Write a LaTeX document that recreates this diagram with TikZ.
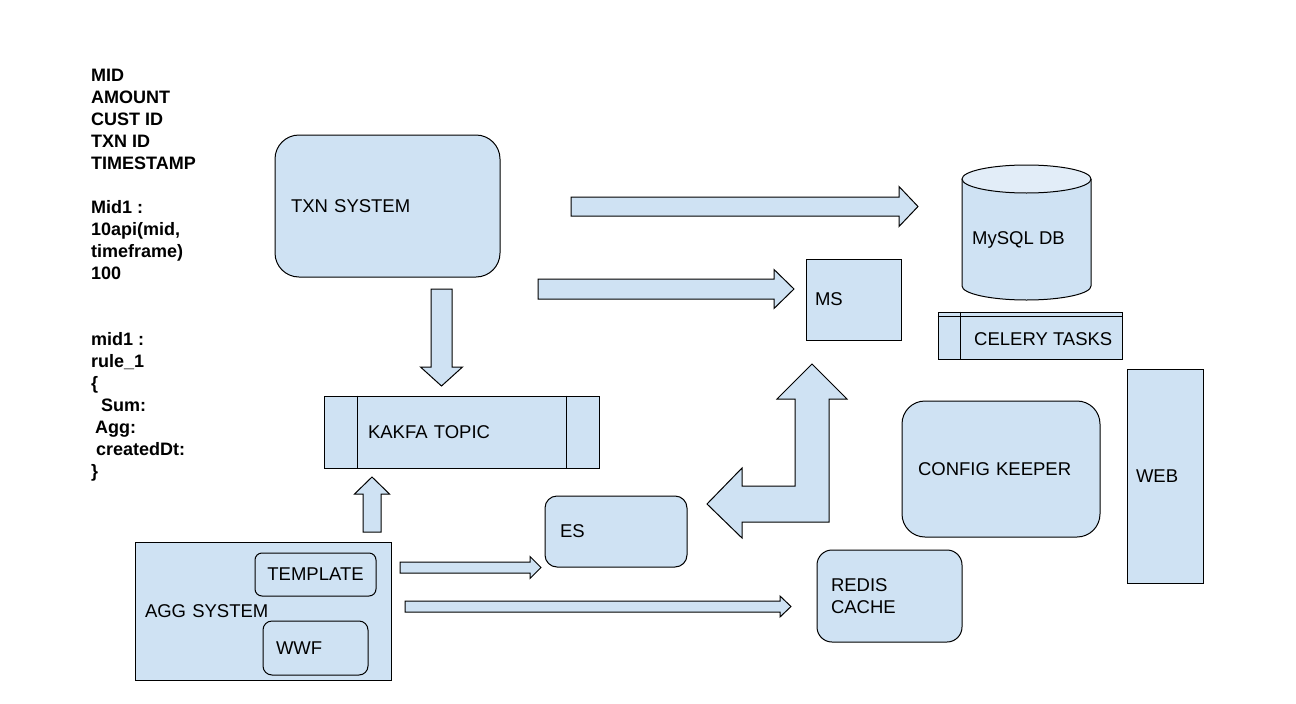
\documentclass[tikz,border=0pt]{standalone}
\usepackage{fontspec}
\setmainfont{Liberation Sans}
\usepackage{tikz}
\usetikzlibrary{calc}
\usepackage{xcolor}
\definecolor{paleblue}{HTML}{CFE2F3}
\definecolor{lidblue}{HTML}{E2EDF8}

\begin{document}
\begin{tikzpicture}[x=1pt, y=-1pt,
	box/.style={draw, fill=paleblue, line width=1pt, align=left, inner ysep=0pt,
	  font=\fontsize{18.5}{22}\selectfont},
	lbl/.style={font=\fontsize{18.5}{22}\selectfont, anchor=west, inner sep=0pt},
	note/.style={align=left, inner sep=0pt, font=\bfseries\fontsize{18}{22}\selectfont},
	fat/.style={draw, fill=paleblue, line width=1pt, line join=miter}]
	  \useasboundingbox (0,0) rectangle (1296,704);
	  % field list
	  \node[note, anchor=north west] (fields) at (91,68.5) {MID\\AMOUNT\\CUST ID\\TXN ID\\TIMESTAMP\\[22pt]
	    Mid1 :\\10api(mid,\\timeframe)\\100\\[44pt]
	    mid1 :\\rule\_1\\\{\\\hspace{10pt}Sum:\\\hspace{4pt}Agg:\\\hspace{5pt}createdDt:\\\}};
	  % systems
	  \node[box, rounded corners=24pt, text width=193pt, inner xsep=16pt, minimum height=142pt] (txn) at (387.5,206) {TXN SYSTEM};
	  \node[box, text width=187pt, inner xsep=44pt, minimum height=72pt] (kafka) at (461.5,432) {KAKFA TOPIC};
	  \draw[line width=1pt] ([xshift=34pt]kafka.north west) -- ([xshift=34pt]kafka.south west);
	  \draw[line width=1pt] ([xshift=-33pt]kafka.north east) -- ([xshift=-33pt]kafka.south east);
	  \node[box, text width=77pt, inner xsep=9pt, minimum height=81pt] (ms) at (853.5,299.5) {MS};
	  \node[box, rounded corners=12pt, text width=112pt, inner xsep=15pt, minimum height=71pt] (es) at (616,531.5) {ES};
	  \node[box, rounded corners=15pt, text width=117pt, inner xsep=14pt, minimum height=92pt] (redis) at (889.5,596) {REDIS\\CACHE};
	  \node[box, rounded corners=23pt, text width=166pt, inner xsep=16pt, minimum height=136pt] (config) at (1001,469) {CONFIG KEEPER};
	  \node[box, text width=58pt, inner xsep=9pt, minimum height=214pt] (web) at (1165,476) {WEB};
	  \node[box, minimum width=184pt, minimum height=47pt] (celery) at (1030,335.5) {};
	  \draw[line width=1pt] ([yshift=-5pt]celery.north west) -- ([yshift=-5pt]celery.north east);
	  \draw[line width=1pt] ([xshift=23pt]celery.north west) -- ([xshift=23pt]celery.south west);
	  \node[lbl] (celerylbl) at (974,339) {CELERY TASKS};
	  % database
	  \draw[fill=paleblue, line width=1pt] (962,179) -- (962,286) arc[start angle=180, end angle=0, x radius=64.5, y radius=14] -- (1091,179);
	  \draw[fill=lidblue, line width=1pt] (1026.5,179) ellipse [x radius=64.5, y radius=14];
	  \node[lbl] (db) at (972,240) {MySQL DB};
	  % aggregation
	  \node[box, text width=236pt, inner xsep=10pt, minimum height=138pt] (agg) at (263,611) {AGG SYSTEM};
	  \node[box, rounded corners=7pt, text width=105pt, inner xsep=8pt, minimum height=43pt, align=center] (tmpl) at (315.5,574.5) {TEMPLATE};
	  \node[box, rounded corners=9pt, text width=79pt, inner xsep=13pt, minimum height=54pt] (wwf) at (315.5,648) {WWF};
	  % block arrows
	  \foreach \xa/\xb/\xt/\yc/\hw/\hh in {571/899/918/206.5/9.5/20, 538/774/794/289/10/19.5,
	      400/530/541/567.5/5.5/11, 405/780/791/606.5/5.5/10.5}
	    \draw[fat] (\xa,\yc-\hw) -- (\xb,\yc-\hw) -- (\xb,\yc-\hh) -- (\xt,\yc)
	      -- (\xb,\yc+\hh) -- (\xb,\yc+\hw) -- (\xa,\yc+\hw) -- cycle;
	  \foreach \xc/\ya/\yb/\yt/\hw/\hh in {441.5/289/367/386/10.5/21, 372/532/494/477/9/17.5}
	    \draw[fat] (\xc-\hw,\ya) -- (\xc-\hw,\yb) -- (\xc-\hh,\yb) -- (\xc,\yt)
	      -- (\xc+\hh,\yb) -- (\xc+\hw,\yb) -- (\xc+\hw,\ya) -- cycle;
	  \draw[fat] (707,504) -- (742,468) -- (742,486) -- (795,486) -- (795,399) -- (777,399)
	    -- (812,364) -- (847,399) -- (829,399) -- (829,522) -- (742,522) -- (742,538) -- cycle;
	\end{tikzpicture}
\end{document}
